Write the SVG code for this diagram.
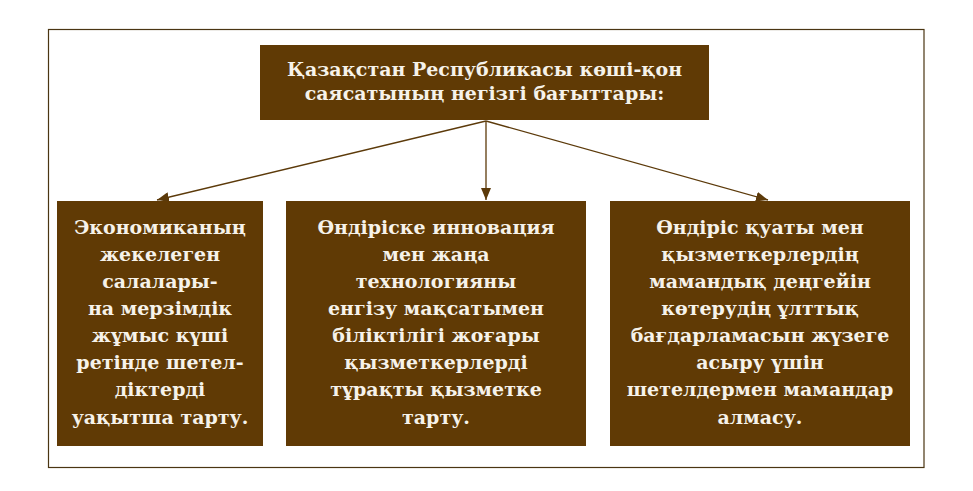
<svg xmlns="http://www.w3.org/2000/svg" width="973" height="491" viewBox="0 0 973 491">
<style>
.box{fill:#603a05;}
.t{font-family:"DejaVu Serif","Liberation Serif",serif;font-weight:bold;font-size:19px;fill:#f6f2ea;text-anchor:middle;}
.c{stroke:#5c3a0a;stroke-width:1.3;fill:none;}
</style>
<defs>
<marker id="ah" viewBox="0 0 12 10" refX="12" refY="5" markerWidth="12" markerHeight="10" markerUnits="userSpaceOnUse" orient="auto">
<path d="M0,0 L12,5 L0,10 Z" fill="#5c3a0a"/>
</marker>
</defs>
<rect width="973" height="491" fill="#ffffff"/>
<rect x="48.5" y="29.5" width="875.5" height="438" fill="none" stroke="#4a3512" stroke-width="1.2"/>
<g id="connectors">
<line class="c" x1="486" y1="121" x2="157" y2="200" marker-end="url(#ah)"/>
<line class="c" x1="486" y1="121" x2="486" y2="200" marker-end="url(#ah)"/>
<line class="c" x1="486" y1="121" x2="768" y2="200" marker-end="url(#ah)"/>
</g>
<g id="top">
<rect class="box" x="260" y="45" width="449" height="75"/>
<text class="t" x="484.5" y="76">Қазақстан Республикасы көші-қон</text>
<text class="t" x="484.5" y="100">саясатының негізгі бағыттары:</text>
</g>
<g id="left">
<rect class="box" x="57" y="201" width="206" height="245"/>
<text class="t" x="160" y="234">Экономиканың</text>
<text class="t" x="160" y="261">жекелеген</text>
<text class="t" x="160" y="288">салалары-</text>
<text class="t" x="160" y="315">на мерзімдік</text>
<text class="t" x="160" y="342">жұмыс күші</text>
<text class="t" x="160" y="369">ретінде шетел-</text>
<text class="t" x="160" y="396">діктерді</text>
<text class="t" x="160" y="424">уақытша тарту.</text>
</g>
<g id="middle">
<rect class="box" x="286" y="201" width="300" height="245"/>
<text class="t" x="436" y="234">Өндіріске инновация</text>
<text class="t" x="436" y="261">мен жаңа</text>
<text class="t" x="436" y="288">технологияны</text>
<text class="t" x="436" y="315">енгізу мақсатымен</text>
<text class="t" x="436" y="342">біліктілігі жоғары</text>
<text class="t" x="436" y="369">қызметкерлерді</text>
<text class="t" x="436" y="396">тұрақты қызметке</text>
<text class="t" x="436" y="424">тарту.</text>
</g>
<g id="right">
<rect class="box" x="610" y="201" width="300" height="245"/>
<text class="t" x="760" y="234">Өндіріс қуаты мен</text>
<text class="t" x="760" y="261">қызметкерлердің</text>
<text class="t" x="760" y="288">мамандық деңгейін</text>
<text class="t" x="760" y="315">көтерудің ұлттық</text>
<text class="t" x="760" y="342">бағдарламасын жүзеге</text>
<text class="t" x="760" y="369">асыру үшін</text>
<text class="t" x="760" y="396">шетелдермен мамандар</text>
<text class="t" x="760" y="424">алмасу.</text>
</g>
</svg>
